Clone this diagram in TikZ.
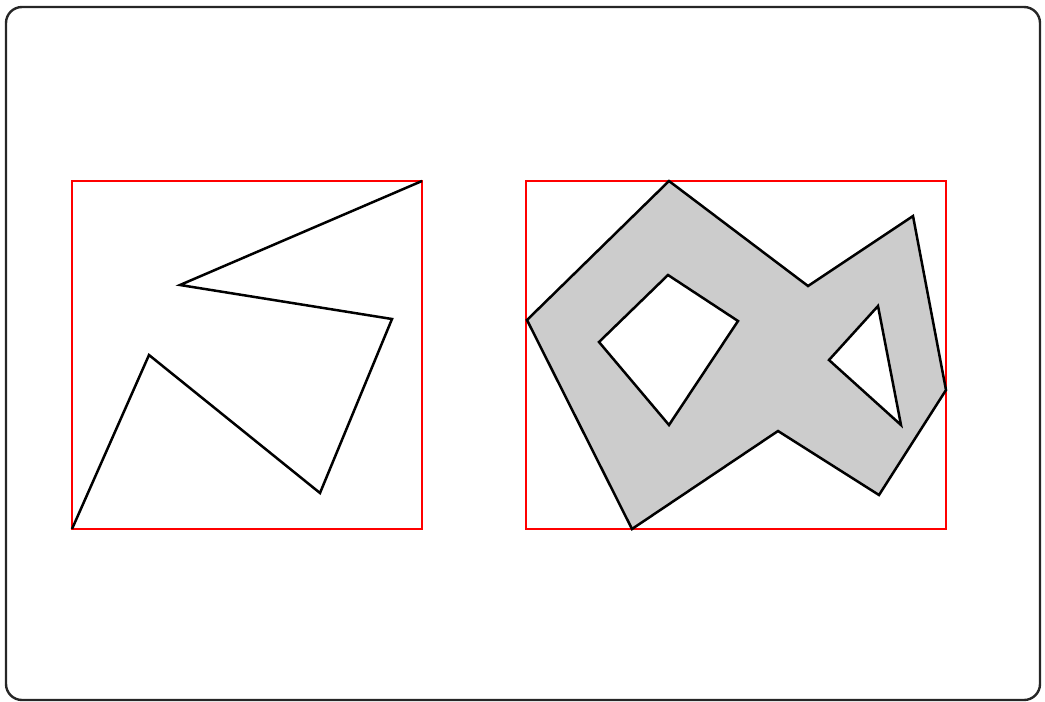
\documentclass[tikz,border=0pt]{standalone}
\begin{document}
\begin{tikzpicture}[x=1pt,y=-1pt,
  frame/.style={draw=black!85,line width=2.4pt,rounded corners=16pt},
  bbox/.style={draw=red,line width=2.3pt},
  poly/.style={draw=black,line width=2.5pt,line join=miter},
  holed/.style={poly,fill=black!20,even odd rule}]
\useasboundingbox (0,0) rectangle (1045,702);
\draw[frame] (6,7) rectangle (1040,700);
% left
\draw[bbox] (72,181) rectangle (422,529);
\draw[poly] (72,529) -- (149,355) -- (320,493) -- (392,319) -- (180,285) -- (422,181);
% right
\draw[bbox] (526,181) rectangle (946,529);
\draw[holed]
  (669,181) -- (808,286) -- (913,216) -- (946,390) -- (879,495) -- (778,431) -- (632,529) -- (527,320) -- cycle
  (668,275) -- (738,321) -- (669,425) -- (599,342) -- cycle
  (878,306) -- (901,425) -- (829,360) -- cycle;
\end{tikzpicture}
\end{document}
